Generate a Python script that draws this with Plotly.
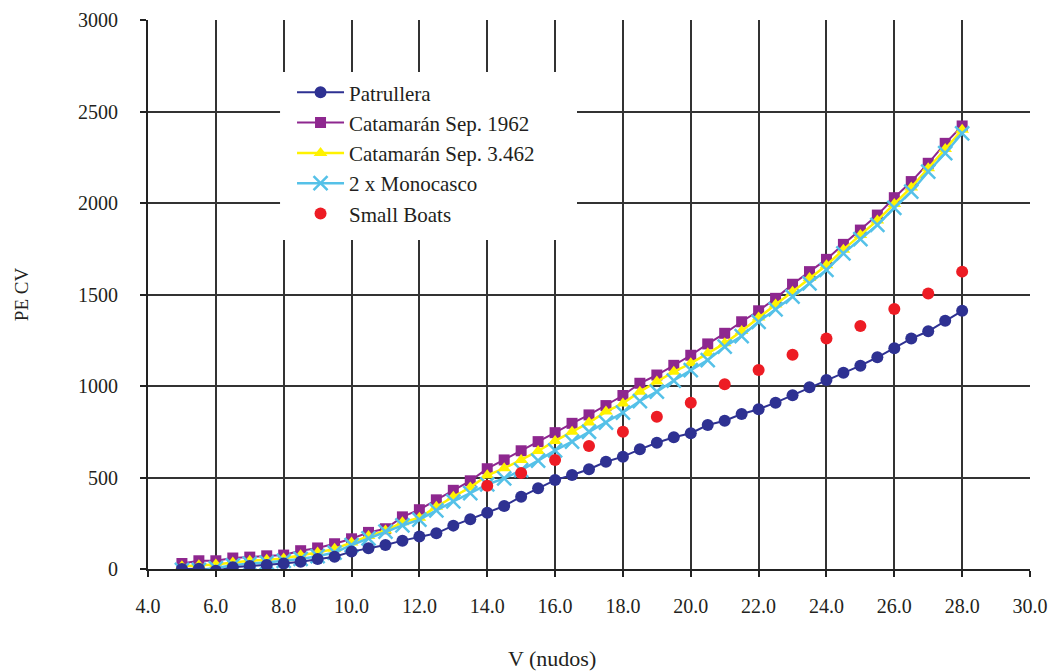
import plotly.graph_objects as go

v = [5.0, 5.5, 6.0, 6.5, 7.0, 7.5, 8.0, 8.5, 9.0, 9.5, 10.0, 10.5, 11.0, 11.5, 12.0,
     12.5, 13.0, 13.5, 14.0, 14.5, 15.0, 15.5, 16.0, 16.5, 17.0, 17.5, 18.0, 18.5,
     19.0, 19.5, 20.0, 20.5, 21.0, 21.5, 22.0, 22.5, 23.0, 23.5, 24.0, 24.5, 25.0,
     25.5, 26.0, 26.5, 27.0, 27.5, 28.0]

patrullera = [0, 2, -10, 9, 16, 22, 30, 40, 55, 67, 95, 113, 131, 155, 177,
              195, 237, 272, 308, 344, 395, 441, 486, 514, 545, 586, 614, 654,
              690, 720, 742, 787, 810, 847, 873, 909, 949, 993, 1033, 1073, 1111,
              1157, 1206, 1259, 1299, 1357, 1411]

cat_1962 = [30, 45, 45, 60, 65, 72, 76, 100, 115, 138, 165, 200, 220, 285, 324,
            378, 430, 482, 548, 596, 646, 696, 745, 796, 842, 893, 948, 1015,
            1060, 1113, 1168, 1230, 1288, 1351, 1411, 1479, 1556, 1625, 1692, 1774, 1852,
            1934, 2029, 2117, 2217, 2326, 2421]

cat_3462 = [15, 20, 25, 35, 45, 50, 58, 75, 90, 110, 145, 180, 210, 255, 280,
            340, 395, 446, 512, 550, 596, 645, 700, 750, 800, 860, 905, 969,
            1024, 1078, 1124, 1179, 1233, 1300, 1375, 1445, 1515, 1590, 1660, 1745, 1825,
            1905, 1995, 2085, 2190, 2295, 2400]

monocasco = [-5, -5, 5, 20, 30, 35, 45, 55, 70, 90, 131, 168, 204, 238, 270,
             320, 370, 414, 462, 495, 540, 592, 648, 696, 750, 800, 855, 918,
             969, 1030, 1087, 1142, 1215, 1273, 1351, 1419, 1488, 1561, 1634, 1725, 1802,
             1880, 1974, 2062, 2171, 2272, 2381]

v_small = [14, 15, 16, 17, 18, 19, 20, 21, 22, 23, 24, 25, 26, 27, 28]
small_boats = [455, 524, 596, 672, 750, 832, 908, 1009, 1087, 1171, 1259, 1328, 1421, 1506, 1625]

x_ticks = [4, 6, 8, 10, 12, 14, 16, 18, 20, 22, 24, 26, 28, 30]
y_ticks = [0, 500, 1000, 1500, 2000, 2500, 3000]

FONT = "Liberation Serif"
TXT = "#231F20"

fig = go.Figure()
fig.add_trace(go.Scatter(x=v, y=cat_1962, name="Catamarán Sep. 1962", mode="lines+markers",
                         line=dict(color="#8E278F", width=2),
                         marker=dict(symbol="square", size=11, color="#8E278F"),
                         legendrank=2))
fig.add_trace(go.Scatter(x=v, y=cat_3462, name="Catamarán Sep. 3.462", mode="lines+markers",
                         line=dict(color="#FFF200", width=2.5),
                         marker=dict(symbol="triangle-up", size=12, color="#FFF200"),
                         legendrank=3))
fig.add_trace(go.Scatter(x=v, y=monocasco, name="2 x Monocasco", mode="lines+markers",
                         line=dict(color="#55C1E8", width=2.5),
                         marker=dict(symbol="x-thin-open", size=14,
                                     line=dict(color="#55C1E8", width=2.5)),
                         legendrank=4))
fig.add_trace(go.Scatter(x=v_small, y=small_boats, name="Small Boats", mode="markers",
                         marker=dict(symbol="circle", size=12, color="#ED1C24"),
                         legendrank=5))
fig.add_trace(go.Scatter(x=v, y=patrullera, name="Patrullera", mode="lines+markers",
                         line=dict(color="#2E3192", width=2),
                         marker=dict(symbol="circle", size=12, color="#2E3192"),
                         legendrank=1))

axis_common = dict(
    showgrid=True, gridcolor="#333333", gridwidth=1.5,
    zeroline=False, showline=True, linecolor="#222222", linewidth=2,
    ticks="outside", ticklen=6, tickwidth=1.5, tickcolor="#222222",
    tickfont=dict(family=FONT, size=20, color=TXT),
    automargin=False,
)

fig.update_xaxes(range=[4, 30], tickvals=x_ticks, tickformat=".1f",
                 ticklabelstandoff=12, **axis_common)
fig.update_yaxes(range=[0, 3000], tickvals=y_ticks, ticklabelstandoff=18,
                 title=dict(text="PE CV", font=dict(family=FONT, size=19, color=TXT), standoff=44),
                 **axis_common)

# white panel behind the legend (hides the gridlines there, as in the original)
fig.add_shape(type="rect", xref="paper", yref="paper",
              x0=0.1497, x1=0.4864, y0=0.5993, y1=0.9053,
              fillcolor="white", line=dict(width=0), layer="above")

fig.add_annotation(text="V (nudos)", xref="paper", yref="paper",
                   x=0.458, y=-0.163, xanchor="center", yanchor="middle",
                   showarrow=False, font=dict(family=FONT, size=22, color=TXT))

fig.update_layout(
    width=1053, height=672,
    margin=dict(l=148, r=23, t=20, b=103, autoexpand=False),
    paper_bgcolor="white", plot_bgcolor="white",
    font=dict(family=FONT, size=18, color=TXT),
    legend=dict(x=0.1633, y=0.905, xanchor="left", yanchor="top",
                bgcolor="rgba(0,0,0,0)", borderwidth=0,
                font=dict(family=FONT, size=21, color=TXT),
                itemwidth=47, tracegroupgap=0),
)

fig.write_html("out.html")
